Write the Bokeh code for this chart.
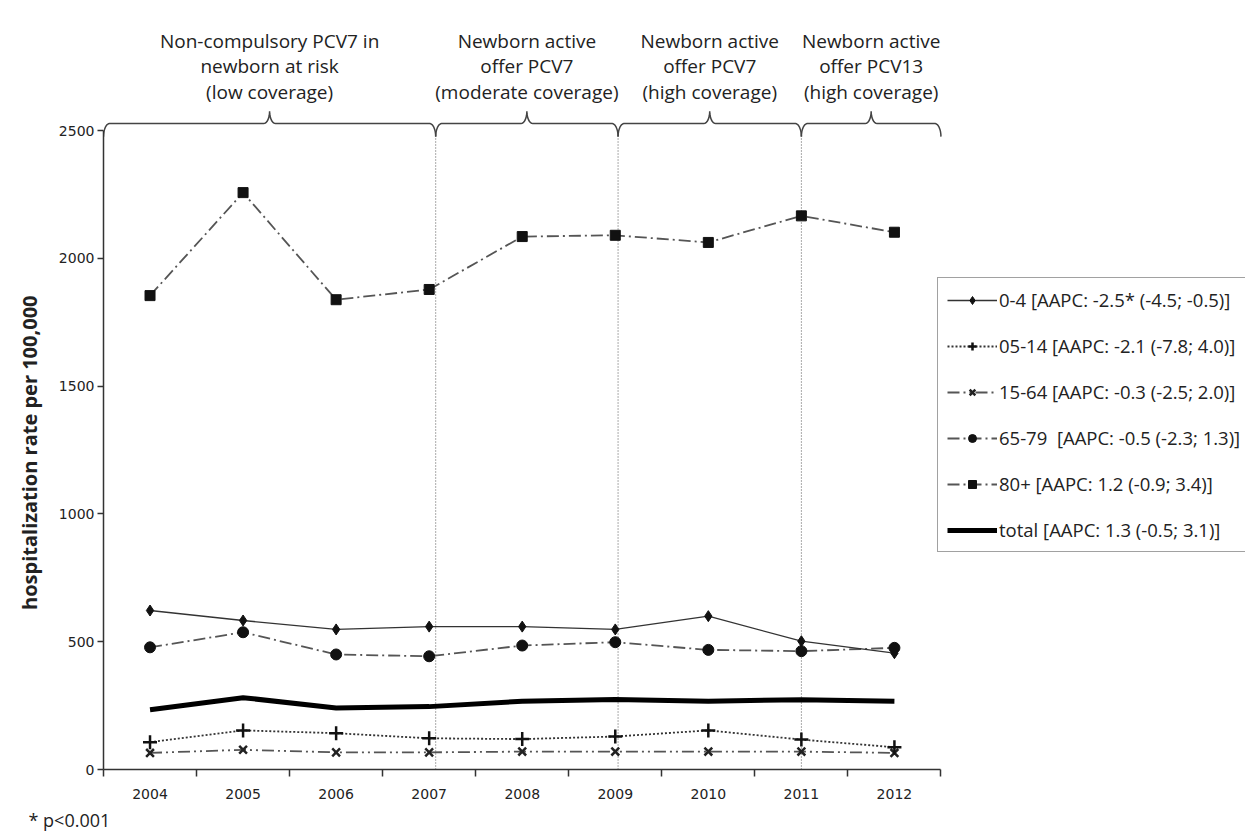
import math
from bokeh.plotting import figure
from bokeh.models import Range1d, FixedTicker, Legend, LegendItem, Title
from bokeh.embed import file_html
from bokeh.resources import INLINE
from bokeh.core.properties import value

# ---------------- data ----------------
years = [2004, 2005, 2006, 2007, 2008, 2009, 2010, 2011, 2012]
rate_0_4 = [622, 583, 548, 559, 559, 548, 600, 502, 455]
rate_05_14 = [107, 153, 142, 122, 119, 129, 153, 117, 87]
rate_15_64 = [65, 77, 67, 67, 70, 70, 70, 70, 65]
rate_65_79 = [478, 537, 450, 443, 485, 498, 468, 463, 476]
rate_80p = [1854, 2257, 1838, 1878, 2085, 2090, 2062, 2166, 2102]
rate_total = [234, 281, 241, 246, 267, 274, 267, 273, 267]

legend_labels = [
    "0-4 [AAPC: -2.5* (-4.5; -0.5)]",
    "05-14 [AAPC: -2.1 (-7.8; 4.0)]",
    "15-64 [AAPC: -0.3 (-2.5; 2.0)]",
    "65-79  [AAPC: -0.5 (-2.3; 1.3)]",
    "80+ [AAPC: 1.2 (-0.9; 3.4)]",
    "total [AAPC: 1.3 (-0.5; 3.1)]",
]
y_ticks = [0, 500, 1000, 1500, 2000, 2500]
period_bounds = [2003.5, 2007.07, 2009.03, 2011.0, 2012.5]
period_labels = [
    ["Non-compulsory PCV7 in", "newborn at risk", "(low coverage)"],
    ["Newborn active", "offer PCV7", "(moderate coverage)"],
    ["Newborn active", "offer PCV7", "(high coverage)"],
    ["Newborn active", "offer PCV13", "(high coverage)"],
]
y_label = "hospitalization rate per 100,000"
footnote = "* p<0.001"

# ---------------- layout ----------------
PX_X = 93.05      # px per year
PX_Y = 0.2556     # px per unit
W, H = 1245, 836
BL, BR, BT, BB = 103, 0, 13, 67
frame_w = W - BL - BR
frame_h = H - BT - BB
X0 = 2003.5
X_END = X0 + frame_w / PX_X
Y_TOP = frame_h / PX_Y

p = figure(width=W, height=H, x_range=Range1d(X0, X_END), y_range=Range1d(0, Y_TOP),
           output_backend="svg", toolbar_location=None,
           min_border_left=BL, min_border_right=BR, min_border_top=BT, min_border_bottom=BB)
p.outline_line_color = None
p.xgrid.visible = False
p.ygrid.visible = False
p.background_fill_color = "white"

xa = p.xaxis[0]
xa.bounds = (2003.5, 2012.5)
xa.ticker = FixedTicker(ticks=years, minor_ticks=[y - 0.5 for y in years] + [2012.5])
xa.major_tick_line_color = None
xa.major_tick_out = 0
xa.major_tick_in = 0
xa.minor_tick_out = 7
xa.minor_tick_in = 0
xa.minor_tick_line_color = "#333333"
xa.minor_tick_line_width = 1.5
xa.axis_line_color = "#333333"
xa.axis_line_width = 1.5
xa.major_label_standoff = 12
xa.major_label_text_font = "DejaVu Sans"
xa.major_label_text_font_size = "14px"
xa.major_label_text_color = "#222222"

ya = p.yaxis[0]
ya.bounds = (0, 2500)
ya.ticker = FixedTicker(ticks=y_ticks)
ya.minor_tick_line_color = None
ya.major_tick_out = 6
ya.major_tick_in = 0
ya.major_tick_line_color = "#333333"
ya.major_tick_line_width = 1.5
ya.axis_line_color = "#333333"
ya.axis_line_width = 1.5
ya.major_label_standoff = 3
ya.major_label_text_font = "DejaVu Sans"
ya.major_label_text_font_size = "14px"
ya.major_label_text_color = "#222222"

# y-axis title, centred on the 0..2500 span
p.add_layout(Title(text=y_label, align="right", offset=282, standoff=26,
                   text_font="Open Sans", text_font_size="20px", text_font_style="bold",
                   text_color="#222222"), "left")

# ---------------- vertical period lines ----------------
y_end = 2476
y_line = 2527
y_peak = 2575
inner = period_bounds[1:-1]
p.segment(x0=inner, y0=[0] * len(inner), x1=inner, y1=[y_end] * len(inner),
          line_color="#555555", line_width=1, line_dash="1 2")

# ---------------- brackets ----------------
dx = 6 / PX_X
xs_all, ys_all = [], []
for a, b in zip(period_bounds[:-1], period_bounds[1:]):
    c = (a + b) / 2
    xs, ys = [], []
    n = 8
    for i in range(n + 1):
        t = math.pi / 2 * i / n
        xs.append(a + dx - dx * math.cos(t)); ys.append(y_end + (y_line - y_end) * math.sin(t))
    for i in range(n + 1):
        t = math.pi / 2 * i / n
        xs.append(c - dx + dx * math.sin(t)); ys.append(y_line + (y_peak - y_line) * (1 - math.cos(t)))
    for i in range(n + 1):
        t = math.pi / 2 * i / n
        xs.append(c + dx - dx * math.cos(t)); ys.append(y_peak - (y_peak - y_line) * math.sin(t))
    for i in range(n + 1):
        t = math.pi / 2 * i / n
        xs.append(b - dx + dx * math.sin(t)); ys.append(y_line - (y_line - y_end) * (1 - math.cos(t)))
    xs_all.append(xs); ys_all.append(ys)
p.multi_line(xs=xs_all, ys=ys_all, line_color="#444444", line_width=1.5)

# ---------------- period labels ----------------
tx, ty, tt = [], [], []
line_y = [2852, 2751, 2649]
for (a, b), lines in zip(zip(period_bounds[:-1], period_bounds[1:]), period_labels):
    c = (a + b) / 2
    for ly, s in zip(line_y, lines):
        tx.append(c); ty.append(ly); tt.append(s)
p.text(x=tx, y=ty, text=tt, text_align="center", text_baseline="middle",
       text_font=value("Open Sans"), text_font_size="19px", text_color="#222222")

# ---------------- series ----------------
def series(vals, dash, color, width, marker, msize, mlw=1.0, mfill=True, mcolor=None):
    mcolor = mcolor or color
    lr = p.line(years, vals, line_color=color, line_width=width, line_dash=dash)
    if marker is None:
        return [lr]
    sr = p.scatter(years, vals, marker=marker, size=msize, line_color=mcolor, line_width=mlw,
                   fill_color=mcolor if mfill else None)
    return [lr, sr]

r_total = series(rate_total, "solid", "#000000", 5, None, 0)
r_15 = series(rate_15_64, "12 4 2 4 2 4", "#555555", 1.8, "x", 11, mlw=2.5, mcolor="#222222")
r_05 = series(rate_05_14, "2 2", "#333333", 1.8, "cross", 14, mlw=2.5, mcolor="#111111")
r_65 = series(rate_65_79, "12 4 2 4", "#555555", 1.8, "circle", 11, mcolor="#111111")
r_80 = series(rate_80p, "12 4 2 4", "#555555", 1.8, "square", 10, mcolor="#111111")
r_04 = series(rate_0_4, "solid", "#333333", 1.3, "diamond", 11, mcolor="#111111")

items = [LegendItem(label=lab, renderers=r) for lab, r in
         zip(legend_labels, [r_04, r_05, r_15, r_65, r_80, r_total])]
legend = Legend(items=items, location=(834, 217), border_line_color="#444444", border_line_width=1.5,
                background_fill_color="white", background_fill_alpha=1.0,
                glyph_width=50, glyph_height=20, label_height=20, spacing=21, padding=9,
                label_standoff=2, label_text_font="Open Sans", label_text_font_size="18.5px",
                label_text_color="#222222", margin=0)
p.add_layout(legend)

# ---------------- footnote ----------------
p.add_layout(Title(text=footnote, align="left", offset=-75, standoff=8,
                   text_font="Open Sans", text_font_size="18px", text_font_style="normal",
                   text_color="#222222"), "below")

open("out.html", "w").write(file_html(p, INLINE))
